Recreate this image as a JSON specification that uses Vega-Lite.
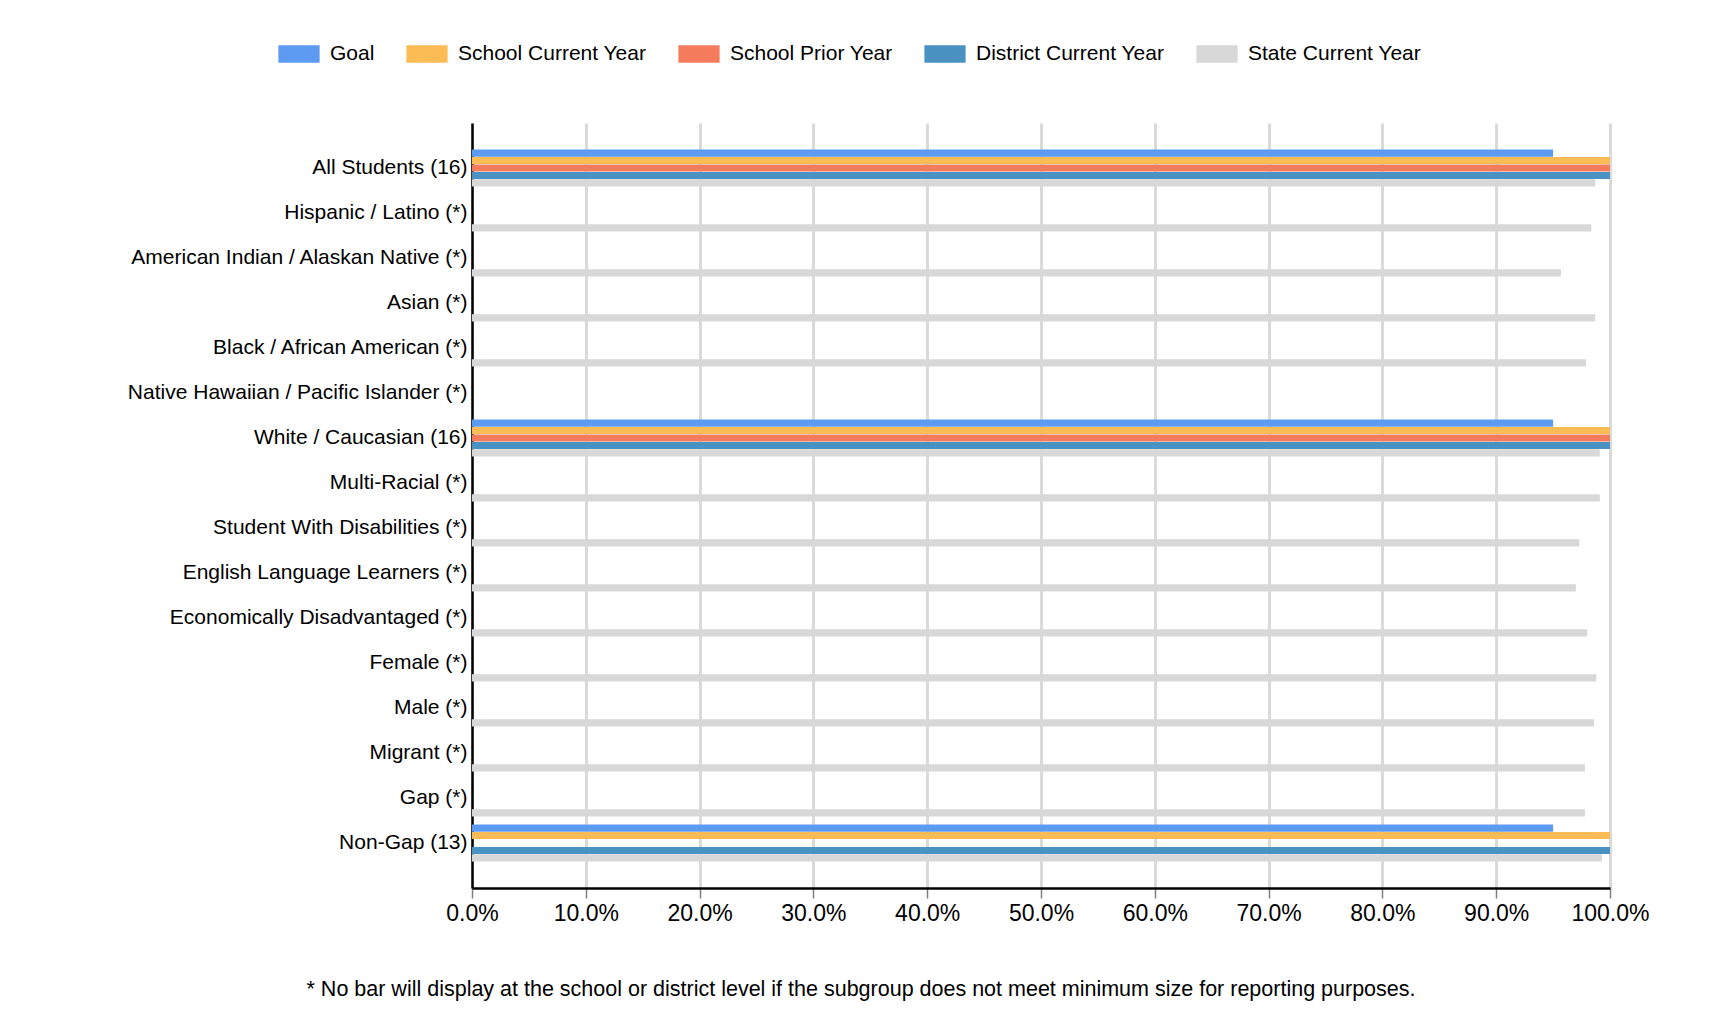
{
  "$schema": "https://vega.github.io/schema/vega-lite/v6.json",
  "autosize": {"type": "none"},
  "padding": {"left": 472, "top": 123, "right": 102, "bottom": 142},
  "width": 1138,
  "height": 765,
  "background": "#ffffff",
  "title": {
    "text": "* No bar will display at the school or district level if the subgroup does not meet minimum size for reporting purposes.",
    "orient": "bottom",
    "anchor": "middle",
    "frame": "group",
    "dx": -180,
    "offset": 54,
    "font": "Liberation Sans",
    "fontSize": 21.5,
    "fontWeight": "normal",
    "color": "#000000"
  },
  "config": {
    "view": {"stroke": null},
    "font": "Liberation Sans"
  },
  "data": {
    "values": [
      {"category": "All Students (16)", "series": "Goal", "value": 95},
      {"category": "All Students (16)", "series": "School Current Year", "value": 100},
      {"category": "All Students (16)", "series": "School Prior Year", "value": 100},
      {"category": "All Students (16)", "series": "District Current Year", "value": 100},
      {"category": "All Students (16)", "series": "State Current Year", "value": 98.7},
      {"category": "Hispanic / Latino (*)", "series": "State Current Year", "value": 98.35},
      {"category": "American Indian / Alaskan Native (*)", "series": "State Current Year", "value": 95.7},
      {"category": "Asian (*)", "series": "State Current Year", "value": 98.7},
      {"category": "Black / African American (*)", "series": "State Current Year", "value": 97.9},
      {"category": "White / Caucasian (16)", "series": "Goal", "value": 95},
      {"category": "White / Caucasian (16)", "series": "School Current Year", "value": 100},
      {"category": "White / Caucasian (16)", "series": "School Prior Year", "value": 100},
      {"category": "White / Caucasian (16)", "series": "District Current Year", "value": 100},
      {"category": "White / Caucasian (16)", "series": "State Current Year", "value": 99.1},
      {"category": "Multi-Racial (*)", "series": "State Current Year", "value": 99.1},
      {"category": "Student With Disabilities (*)", "series": "State Current Year", "value": 97.3},
      {"category": "English Language Learners (*)", "series": "State Current Year", "value": 97.0},
      {"category": "Economically Disadvantaged (*)", "series": "State Current Year", "value": 98.0},
      {"category": "Female (*)", "series": "State Current Year", "value": 98.8},
      {"category": "Male (*)", "series": "State Current Year", "value": 98.6},
      {"category": "Migrant (*)", "series": "State Current Year", "value": 97.8},
      {"category": "Gap (*)", "series": "State Current Year", "value": 97.8},
      {"category": "Non-Gap (13)", "series": "Goal", "value": 95},
      {"category": "Non-Gap (13)", "series": "School Current Year", "value": 100},
      {"category": "Non-Gap (13)", "series": "District Current Year", "value": 100},
      {"category": "Non-Gap (13)", "series": "State Current Year", "value": 99.3}
    ]
  },
  "mark": {"type": "bar"},
  "encoding": {
    "y": {
      "field": "category",
      "type": "nominal",
      "sort": null,
      "scale": {
        "domain": ["All Students (16)", "Hispanic / Latino (*)", "American Indian / Alaskan Native (*)", "Asian (*)", "Black / African American (*)", "Native Hawaiian / Pacific Islander (*)", "White / Caucasian (16)", "Multi-Racial (*)", "Student With Disabilities (*)", "English Language Learners (*)", "Economically Disadvantaged (*)", "Female (*)", "Male (*)", "Migrant (*)", "Gap (*)", "Non-Gap (13)"],
        "paddingInner": 0.18,
        "paddingOuter": 0.59
      },
      "axis": {
        "title": null,
        "ticks": false,
        "labelFont": "Liberation Sans",
        "labelFontSize": 21,
        "labelColor": "#000000",
        "labelPadding": 5,
        "domainColor": "#000000",
        "domainWidth": 2.5,
        "labelLimit": 600
      }
    },
    "yOffset": {
      "field": "series",
      "type": "nominal",
      "scale": {
        "domain": ["Goal", "School Current Year", "School Prior Year", "District Current Year", "State Current Year"],
        "paddingInner": 0.05
      }
    },
    "x": {
      "field": "value",
      "type": "quantitative",
      "scale": {"domain": [0, 100], "nice": false},
      "axis": {
        "title": null,
        "values": [0, 10, 20, 30, 40, 50, 60, 70, 80, 90, 100],
        "labelExpr": "format(datum.value, '.1f') + '%'",
        "labelFont": "Liberation Sans",
        "labelFontSize": 23,
        "labelColor": "#000000",
        "labelPadding": 4,
        "tickSize": 10,
        "tickColor": "#808080",
        "tickWidth": 1.5,
        "domainColor": "#000000",
        "domainWidth": 2.5,
        "grid": true,
        "gridColor": "#dadada",
        "gridWidth": 3,
        "labelFlush": false
      }
    },
    "color": {
      "field": "series",
      "type": "nominal",
      "scale": {
        "domain": ["Goal", "School Current Year", "School Prior Year", "District Current Year", "State Current Year"],
        "range": ["#5d9af2", "#fcbc55", "#f47c5c", "#4a92c2", "#d8d8d8"]
      },
      "legend": {
        "title": null,
        "orient": "none",
        "direction": "horizontal",
        "legendX": -194,
        "legendY": -90,
        "symbolType": "M-1,-0.43H1V0.43H-1Z",
        "symbolSize": 1700,
        "symbolStrokeWidth": 0,
        "labelFont": "Liberation Sans",
        "labelFontSize": 21,
        "labelColor": "#000000",
        "labelOffset": 10,
        "columnPadding": 31,
        "labelLimit": 400
      }
    }
  }
}
